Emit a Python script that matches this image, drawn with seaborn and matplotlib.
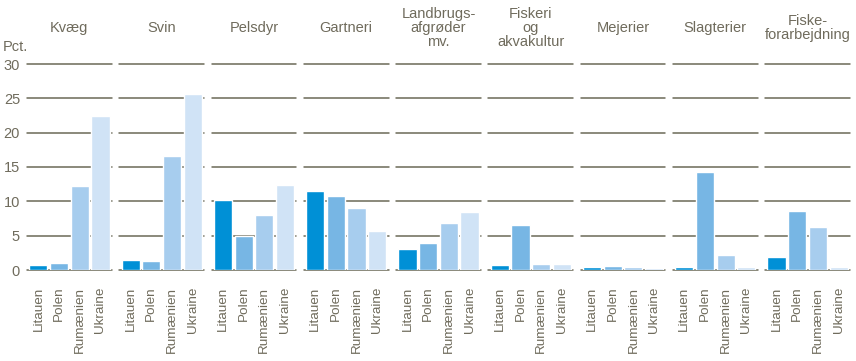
import seaborn as sns
import pandas as pd
import matplotlib.pyplot as plt

countries = ['Litauen', 'Polen', 'Rumænien', 'Ukraine']
sectors = ['Kvæg', 'Svin', 'Pelsdyr', 'Gartneri', 'Landbrugs-\nafgrøder\nmv.',
           'Fiskeri\nog\nakvakultur', 'Mejerier', 'Slagterier', 'Fiske-\nforarbejdning']

kvaeg = [0.7, 1.0, 12.3, 22.5]
svin = [1.5, 1.3, 16.6, 25.6]
pelsdyr = [10.2, 4.9, 8.0, 12.4]
gartneri = [11.5, 10.8, 9.1, 5.7]
landbrug = [3.1, 4.0, 6.9, 8.5]
fiskeri = [0.8, 6.6, 0.9, 0.9]
mejerier = [0.45, 0.6, 0.4, 0.3]
slagterier = [0.45, 14.3, 2.2, 0.45]
fiskeforarb = [1.9, 8.6, 6.3, 0.45]

values = [kvaeg, svin, pelsdyr, gartneri, landbrug, fiskeri, mejerier, slagterier, fiskeforarb]
palette = ['#0090d6', '#77b6e4', '#a7cdee', '#d0e3f6']
text_col = '#6f6b5c'
grid_col = '#6b6a57'

rows = []
for s, vals in zip(sectors, values):
    for c, v in zip(countries, vals):
        rows.append({'sektor': s, 'land': c, 'pct': v})
df = pd.DataFrame(rows)

sns.set_style('white')
plt.rcParams['font.family'] = ['Liberation Sans', 'DejaVu Sans']
plt.rcParams['font.size'] = 10

fig, axes = plt.subplots(1, 9, figsize=(8.56, 3.61), dpi=100, sharey=True)
fig.subplots_adjust(left=27 / 856, right=850 / 856, top=1 - 64 / 361, bottom=1 - 270 / 361,
                    wspace=0.088)

for i, (ax, s) in enumerate(zip(axes, sectors)):
    sub = df[df['sektor'] == s]
    sns.barplot(data=sub, x='land', y='pct', hue='land', palette=palette, order=countries,
                hue_order=countries, legend=False, width=0.88, saturation=1, ax=ax, zorder=3)
    for y in range(0, 31, 5):
        ax.axhline(y, color=grid_col, lw=1.1, zorder=1, clip_on=False)
    ax.set_ylim(0, 30)
    ax.set_xlim(-0.55, 3.55)
    ax.set_xlabel('')
    ax.set_ylabel('')
    sns.despine(ax=ax, left=True, bottom=True)
    ax.tick_params(axis='x', length=0, pad=12, labelcolor=text_col, labelsize=9.7)
    ax.tick_params(axis='y', length=0, pad=5, labelcolor=text_col, labelsize=10.5)
    ax.set_yticks(range(0, 31, 5))
    ax.set_xticks(range(4))
    ax.set_xticklabels(countries, rotation=90, va='top', ha='center')
    ax.text(0.5, 1.175, s, transform=ax.transAxes, ha='center', va='center',
            color=text_col, fontsize=10.5, linespacing=1.0)

fig.text(3 / 856, 1 - 47 / 361, 'Pct.', color=text_col, fontsize=10.5, va='center', ha='left')

plt.savefig('out.png', dpi=100)
